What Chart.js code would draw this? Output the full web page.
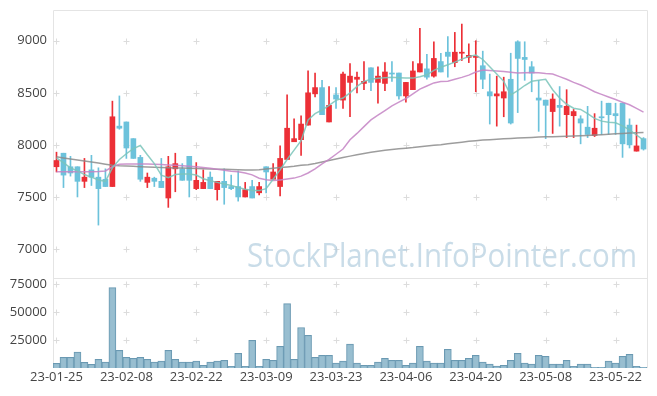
<!DOCTYPE html>
<html>
<head>
<meta charset="utf-8">
<script src="https://cdn.jsdelivr.net/npm/chart.js@4.4.0/dist/chart.umd.min.js"></script>
<style>
  html, body { margin: 0; background: #fff; }
  #wrap { width: 657px; height: 396px; }
</style>
</head>
<body>
<div id="wrap"><canvas id="c"></canvas></div>
<script>
"use strict";

const dates = [
  "23-01-25","23-01-26","23-01-27","23-01-30","23-01-31",
  "23-02-01","23-02-02","23-02-03","23-02-06","23-02-07",
  "23-02-08","23-02-09","23-02-10","23-02-13","23-02-14",
  "23-02-15","23-02-16","23-02-17","23-02-20","23-02-21",
  "23-02-22","23-02-23","23-02-24","23-02-27","23-02-28",
  "23-03-02","23-03-03","23-03-06","23-03-07","23-03-08",
  "23-03-09","23-03-10","23-03-13","23-03-14","23-03-15",
  "23-03-16","23-03-17","23-03-20","23-03-21","23-03-22",
  "23-03-23","23-03-24","23-03-27","23-03-28","23-03-29",
  "23-03-30","23-03-31","23-04-03","23-04-04","23-04-05",
  "23-04-06","23-04-07","23-04-10","23-04-11","23-04-12",
  "23-04-13","23-04-14","23-04-17","23-04-18","23-04-19",
  "23-04-20","23-04-21","23-04-24","23-04-25","23-04-26",
  "23-04-27","23-04-28","23-05-02","23-05-03","23-05-04",
  "23-05-08","23-05-09","23-05-10","23-05-11","23-05-12",
  "23-05-15","23-05-16","23-05-17","23-05-18","23-05-19",
  "23-05-22","23-05-23","23-05-24","23-05-25","23-05-26"
];

const opens = [
  7790,7920,7790,7790,7650,7760,7690,7670,7600,8180,
  8220,8060,7880,7640,7680,7650,7490,7770,7770,7890,
  7580,7580,7690,7570,7650,7600,7600,7500,7600,7540,
  7790,7670,7600,7860,8030,8050,8190,8490,8550,8220,
  8480,8430,8600,8630,8590,8740,8600,8590,8690,8690,
  8470,8530,8700,8730,8660,8800,8890,8790,8880,8840,
  8840,8760,8510,8470,8450,8630,8990,8840,8750,8450,
  8430,8320,8380,8290,8280,8250,8170,8090,8270,8400,
  8300,8400,8190,7940,8060
];
const highs = [
  7930,7920,7890,7790,7870,7900,7780,7770,8420,8470,
  8220,8060,7900,7730,7690,7870,7890,7920,7820,7890,
  7830,7760,7740,7650,7770,7710,7750,7640,7660,7640,
  7790,7820,7990,8480,8250,8280,8710,8690,8620,8560,
  8550,8700,8780,8700,8800,8740,8750,8790,8800,8690,
  8600,8800,9120,8870,8990,8880,9040,9080,9160,8970,
  9000,8900,8680,8660,8650,8880,9000,8990,8800,8620,
  8430,8490,8560,8530,8340,8280,8370,8300,8420,8400,
  8400,8400,8250,8190,8070
];
const lows = [
  7740,7590,7700,7500,7590,7610,7230,7600,7600,8150,
  7870,7870,7650,7590,7600,7590,7400,7550,7660,7500,
  7570,7580,7580,7470,7430,7570,7460,7500,7490,7520,
  7540,7670,7510,7860,8030,7900,8190,8460,8290,8220,
  8350,8350,8270,8500,8530,8520,8400,8520,8610,8440,
  8410,8530,8700,8630,8650,8700,8650,8750,8810,8790,
  8510,8540,8200,8180,8270,8200,8310,8620,8510,8130,
  8060,8110,8180,8070,8070,8010,8070,8080,8100,8100,
  8100,7880,7970,7940,7950
];
const closes = [
  7850,7710,7730,7650,7690,7690,7580,7600,8270,8160,
  7970,7870,7670,7690,7650,7590,7790,7820,7660,7660,
  7660,7640,7580,7650,7590,7580,7500,7570,7490,7600,
  7740,7740,7870,8160,8060,8200,8500,8550,8290,8380,
  8440,8680,8660,8650,8610,8600,8660,8700,8680,8470,
  8600,8710,8780,8650,8830,8700,8850,8890,8890,8860,
  8850,8630,8470,8490,8510,8210,8830,8820,8690,8430,
  8380,8440,8360,8370,8320,8210,8100,8160,8260,8290,
  8280,8010,8000,7990,7960
];

const ma5 = [
  7875,7830,7779,7750,7715,7690,7663,7650,7780,7860,
  7915,7965,7994,7905,7820,7710,7685,7715,7721,7721,
  7710,7675,7655,7640,7625,7610,7590,7575,7562,7561,
  7580,7670,7760,7860,7950,8040,8240,8300,8335,8380,
  8428,8450,8500,8561,8610,8630,8640,8645,8650,8645,
  8641,8641,8655,8673,8715,8745,8770,8795,8823,8848,
  8863,8820,8750,8680,8610,8480,8520,8570,8611,8620,
  8630,8530,8450,8390,8352,8340,8300,8255,8228,8218,
  8212,8183,8145,8095,8045
];
const ma20 = [
  7743,7743,7743,7743,7743,7743,7745,7750,7790,7815,
  7817,7817,7817,7817,7815,7812,7808,7805,7800,7795,
  7790,7783,7775,7766,7757,7748,7742,7730,7712,7680,
  7665,7657,7664,7672,7681,7700,7730,7770,7817,7860,
  7910,7960,8050,8110,8175,8240,8285,8330,8375,8410,
  8445,8490,8535,8565,8595,8609,8612,8630,8648,8670,
  8700,8718,8714,8710,8705,8697,8690,8693,8695,8692,
  8685,8680,8655,8630,8600,8575,8545,8510,8485,8460,
  8435,8410,8385,8350,8315
];
const ma60 = [
  7885,7875,7865,7855,7845,7835,7825,7815,7805,7800,
  7797,7794,7791,7788,7785,7783,7781,7779,7777,7775,
  7773,7771,7769,7767,7765,7763,7761,7760,7760,7762,
  7768,7775,7782,7788,7795,7805,7810,7822,7836,7850,
  7864,7878,7892,7905,7918,7930,7940,7948,7955,7962,
  7968,7974,7982,7989,7996,8002,8010,8018,8026,8034,
  8040,8046,8050,8054,8058,8062,8066,8069,8072,8075,
  8077,8079,8081,8083,8085,8087,8090,8094,8098,8102,
  8106,8110,8113,8116,8118
];

const volumes = [
  4200,9500,9500,14300,5000,3300,7700,5400,72000,15800,
  9500,8600,9500,7700,5400,6200,15800,7700,5400,5400,
  6200,2400,5400,6200,6800,1500,13100,1500,24700,1500,
  7700,6800,19300,57700,7700,36300,29200,9500,11300,11300,
  4500,6200,21400,4500,2400,2400,5400,8600,6800,6800,
  2400,4500,19300,6200,4500,4500,16700,6800,6800,8600,
  11300,5400,3600,1800,2400,6800,13100,4500,3600,11300,
  10400,3600,3600,6800,1500,3600,3600,600,600,6200,
  4500,10400,12200,1500,600
];

const priceTicks = [7000, 7500, 8000, 8500, 9000];
const volumeTicks = [25000, 50000, 75000];

const UP = "#ec2f36", DOWN = "#6cc2db";
const candleColor = opens.map((o, i) => closes[i] >= o ? UP : DOWN);
const font = { family: "'Open Sans', 'Noto Sans', sans-serif", size: 13 };

/* frame, "+" grid marks and watermark */
const decor = {
  id: "decor",
  beforeDatasetsDraw(chart) {
    const { ctx, chartArea: a, scales } = chart;
    const y = scales.y, yv = scales.yv, x = scales.x;
    ctx.save();
    ctx.strokeStyle = "#e4e4e4";
    ctx.lineWidth = 1;
    ctx.beginPath();
    ctx.moveTo(a.left + 0.5, a.bottom); ctx.lineTo(a.left + 0.5, y.top + 0.5);
    ctx.lineTo(a.right + 0.5, y.top + 0.5); ctx.lineTo(a.right + 0.5, a.bottom);
    ctx.moveTo(a.left, Math.round(y.bottom) + 0.5); ctx.lineTo(a.right, Math.round(y.bottom) + 0.5);
    ctx.stroke();

    // crosses at grid intersections
    ctx.strokeStyle = "#dcdcdc";
    const xs = dates.map((d, i) => i).filter(i => i % 10 === 0).map(i => x.getPixelForValue(i));
    const ys = priceTicks.map(v => y.getPixelForValue(v))
      .concat(volumeTicks.map(v => yv.getPixelForValue(v)));
    ctx.beginPath();
    for (const px of xs) for (const py of ys) {
      const cx = Math.round(px) + 0.5, cy = Math.round(py) + 0.5;
      ctx.moveTo(cx - 3, cy); ctx.lineTo(cx + 3, cy);
      ctx.moveTo(cx, cy - 3); ctx.lineTo(cx, cy + 3);
    }
    ctx.stroke();

    // watermark
    const txt = "StockPlanet.InfoPointer.com";
    ctx.font = "33px 'Open Sans', sans-serif";
    const w = ctx.measureText(txt).width;
    ctx.fillStyle = "rgba(178,205,222,0.7)";
    ctx.translate(247, 267);
    ctx.scale(390 / w, 1);
    ctx.textBaseline = "alphabetic";
    ctx.fillText(txt, 0, 0);
    ctx.restore();
  }
};

const fixedTicks = list => s => { s.ticks = list.map(v => ({ value: v })); };
// fixed axis width; drop the label overhang padding so the plot starts at layout top
const leftAxisFit = s => { s.width = 53; s.paddingTop = 0; s.paddingBottom = 0; };

new Chart(document.getElementById("c"), {
  data: {
    labels: dates,
    datasets: [
      { type: "line", data: ma5, borderColor: "rgba(122,196,186,0.85)", borderWidth: 1.5,
        pointRadius: 0, tension: 0, yAxisID: "y", order: 0 },
      { type: "line", data: ma20, borderColor: "rgba(196,132,196,0.85)", borderWidth: 1.5,
        pointRadius: 0, tension: 0, yAxisID: "y", order: 0 },
      { type: "line", data: ma60, borderColor: "rgba(140,140,140,0.85)", borderWidth: 1.5,
        pointRadius: 0, tension: 0, yAxisID: "y", order: 0 },
      { type: "bar", data: opens.map((o, i) => [o, closes[i]]), backgroundColor: candleColor,
        barThickness: 5, minBarLength: 1, grouped: false, yAxisID: "y", order: 1 },
      { type: "bar", data: lows.map((l, i) => [l, highs[i]]), backgroundColor: candleColor,
        barThickness: 1, grouped: false, yAxisID: "y", order: 2 },
      { type: "bar", data: volumes, backgroundColor: "rgba(146,187,206,0.95)",
        borderColor: "rgba(98,148,174,0.95)", borderWidth: 1, borderSkipped: "bottom",
        barPercentage: 1, categoryPercentage: 1, grouped: false, yAxisID: "yv", order: 3 }
    ]
  },
  options: {
    responsive: true, maintainAspectRatio: false, animation: false, devicePixelRatio: 1,
    layout: { padding: { top: 10, right: 10, left: 0, bottom: 0 } },
    plugins: { legend: { display: false }, tooltip: { enabled: false } },
    scales: {
      x: {
        type: "category", offset: true,
        grid: { display: false, drawTicks: false }, border: { display: false },
        ticks: { autoSkip: false, maxRotation: 0, padding: 1, font, color: "#444",
          callback: (v, i) => i % 10 === 0 ? dates[i] : null },
        afterFit: s => { s.height = 28; }
      },
      y: {
        type: "linear", position: "left", stack: "p", stackWeight: 268, weight: 2,
        min: 6722, max: 9295,
        grid: { display: false, drawTicks: false }, border: { display: false },
        ticks: { padding: 6, font, color: "#444", callback: v => String(v) },
        afterBuildTicks: fixedTicks(priceTicks),
        afterFit: leftAxisFit
      },
      yv: {
        type: "linear", position: "left", stack: "p", stackWeight: 90, weight: 1,
        min: 0, max: 80600,
        grid: { display: false, drawTicks: false }, border: { display: false },
        ticks: { padding: 6, font, color: "#444", callback: v => String(v) },
        afterBuildTicks: fixedTicks(volumeTicks),
        afterFit: leftAxisFit
      }
    }
  },
  plugins: [decor]
});
</script>
</body>
</html>
